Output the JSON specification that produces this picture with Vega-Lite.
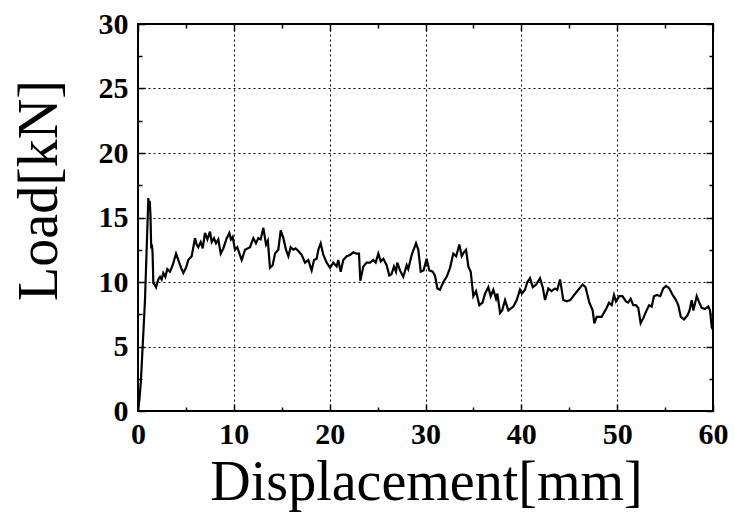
{
  "$schema": "https://vega.github.io/schema/vega-lite/v6.json",
  "autosize": {"type": "none"},
  "padding": {"left": 138, "top": 24, "right": 21, "bottom": 103},
  "width": 575,
  "height": 387,
  "background": "white",
  "config": {
    "view": {"stroke": "black", "strokeWidth": 2},
    "axis": {
      "domain": false,
      "tickColor": "black",
      "tickWidth": 1.5,
      "labelFont": "Liberation Serif",
      "labelFontWeight": "bold",
      "labelFontSize": 30,
      "labelColor": "black",
      "labelFlush": false,
      "labelOverlap": false,
      "titleFont": "Liberation Serif",
      "titleFontWeight": "normal",
      "titleFontSize": 56,
      "titleColor": "black"
    }
  },
  "data": {
    "values": [
      {"d": 0, "load": 0}, {"d": 0.15, "load": 0.9}, {"d": 0.3, "load": 2.3}, {"d": 0.5, "load": 5.2},
      {"d": 0.73, "load": 8.6}, {"d": 0.95, "load": 13.6}, {"d": 1.08, "load": 16.5}, {"d": 1.15, "load": 15.6},
      {"d": 1.22, "load": 16.3}, {"d": 1.3, "load": 15.2}, {"d": 1.38, "load": 12.6}, {"d": 1.45, "load": 12.9},
      {"d": 1.52, "load": 12.3}, {"d": 1.6, "load": 9.9}, {"d": 1.75, "load": 9.8}, {"d": 1.88, "load": 9.6},
      {"d": 2.12, "load": 10.2}, {"d": 2.3, "load": 10.4}, {"d": 2.47, "load": 10.2}, {"d": 2.64, "load": 10.7},
      {"d": 2.85, "load": 10.4}, {"d": 3.06, "load": 11.0}, {"d": 3.34, "load": 10.8}, {"d": 3.62, "load": 11.3},
      {"d": 3.97, "load": 12.2}, {"d": 4.21, "load": 11.7}, {"d": 4.5, "load": 11.1}, {"d": 4.73, "load": 10.7},
      {"d": 5.01, "load": 11.1}, {"d": 5.25, "load": 11.7}, {"d": 5.6, "load": 12.0}, {"d": 5.95, "load": 13.4},
      {"d": 6.12, "load": 12.9}, {"d": 6.29, "load": 12.7}, {"d": 6.54, "load": 13.1}, {"d": 6.75, "load": 12.6},
      {"d": 6.99, "load": 13.8}, {"d": 7.24, "load": 13.3}, {"d": 7.51, "load": 13.9}, {"d": 7.69, "load": 13.1},
      {"d": 7.93, "load": 13.4}, {"d": 8.14, "load": 13.0}, {"d": 8.38, "load": 13.3}, {"d": 8.63, "load": 12.2},
      {"d": 8.9, "load": 12.6}, {"d": 9.26, "load": 13.4}, {"d": 9.53, "load": 13.8}, {"d": 9.7, "load": 13.3},
      {"d": 9.88, "load": 13.5}, {"d": 10.12, "load": 12.5}, {"d": 10.36, "load": 12.7}, {"d": 10.82, "load": 11.7},
      {"d": 11.17, "load": 12.5}, {"d": 11.69, "load": 12.7}, {"d": 12.03, "load": 13.4}, {"d": 12.31, "load": 13.0},
      {"d": 12.56, "load": 13.4}, {"d": 12.8, "load": 13.3}, {"d": 13.08, "load": 14.2}, {"d": 13.36, "load": 12.9},
      {"d": 13.55, "load": 13.2}, {"d": 13.77, "load": 11.1}, {"d": 14.05, "load": 11.3}, {"d": 14.3, "load": 12.2},
      {"d": 14.64, "load": 12.5}, {"d": 14.89, "load": 14.0}, {"d": 15.17, "load": 13.4}, {"d": 15.44, "load": 12.5},
      {"d": 15.69, "load": 12.0}, {"d": 15.93, "load": 12.7}, {"d": 16.21, "load": 12.5}, {"d": 16.45, "load": 12.6},
      {"d": 16.73, "load": 12.4}, {"d": 17.08, "load": 12.1}, {"d": 17.43, "load": 11.5}, {"d": 17.77, "load": 11.7},
      {"d": 18.12, "load": 10.9}, {"d": 18.37, "load": 11.7}, {"d": 18.64, "load": 11.8}, {"d": 18.82, "load": 12.5},
      {"d": 19.06, "load": 13.0}, {"d": 19.34, "load": 12.1}, {"d": 19.69, "load": 11.5}, {"d": 20.04, "load": 11.1},
      {"d": 20.38, "load": 11.5}, {"d": 20.73, "load": 11.2}, {"d": 20.9, "load": 11.7}, {"d": 21.15, "load": 10.8},
      {"d": 21.42, "load": 11.7}, {"d": 21.78, "load": 12.0}, {"d": 22.12, "load": 12.1}, {"d": 22.47, "load": 12.3},
      {"d": 22.8, "load": 12.2}, {"d": 23.06, "load": 12.2}, {"d": 23.2, "load": 10.1}, {"d": 23.51, "load": 11.2},
      {"d": 23.86, "load": 11.5}, {"d": 24.2, "load": 11.5}, {"d": 24.56, "load": 11.7}, {"d": 24.8, "load": 11.5},
      {"d": 25.08, "load": 12.2}, {"d": 25.33, "load": 11.6}, {"d": 25.6, "load": 11.8}, {"d": 25.95, "load": 11.3},
      {"d": 26.22, "load": 10.5}, {"d": 26.45, "load": 10.6}, {"d": 26.71, "load": 11.2}, {"d": 26.92, "load": 10.8},
      {"d": 27.06, "load": 11.5}, {"d": 27.34, "load": 10.9}, {"d": 27.68, "load": 10.4}, {"d": 28.04, "load": 11.3},
      {"d": 28.2, "load": 11.0}, {"d": 28.56, "load": 12.1}, {"d": 29.01, "load": 13.0}, {"d": 29.25, "load": 12.5},
      {"d": 29.5, "load": 10.8}, {"d": 29.8, "load": 10.9}, {"d": 30.12, "load": 11.8}, {"d": 30.4, "load": 10.9},
      {"d": 30.75, "load": 10.8}, {"d": 30.99, "load": 10.5}, {"d": 31.24, "load": 9.5}, {"d": 31.51, "load": 9.4},
      {"d": 31.86, "load": 10.0}, {"d": 32.21, "load": 10.4}, {"d": 32.56, "load": 11.1}, {"d": 32.9, "load": 12.2},
      {"d": 33.2, "load": 12.0}, {"d": 33.53, "load": 12.9}, {"d": 33.78, "load": 12.0}, {"d": 34.0, "load": 12.3},
      {"d": 34.23, "load": 12.5}, {"d": 34.47, "load": 11.2}, {"d": 34.72, "load": 10.8}, {"d": 34.99, "load": 8.9},
      {"d": 35.27, "load": 9.3}, {"d": 35.62, "load": 8.2}, {"d": 35.95, "load": 8.4}, {"d": 36.21, "load": 9.1},
      {"d": 36.56, "load": 9.6}, {"d": 36.8, "load": 8.9}, {"d": 37.08, "load": 9.4}, {"d": 37.36, "load": 8.7},
      {"d": 37.5, "load": 9.1}, {"d": 37.78, "load": 7.6}, {"d": 38.0, "load": 7.8}, {"d": 38.3, "load": 8.6},
      {"d": 38.64, "load": 7.8}, {"d": 39.17, "load": 8.1}, {"d": 39.52, "load": 8.6}, {"d": 39.86, "load": 9.4},
      {"d": 40.05, "load": 9.1}, {"d": 40.38, "load": 9.4}, {"d": 40.63, "load": 10.0}, {"d": 40.91, "load": 10.3},
      {"d": 41.19, "load": 9.6}, {"d": 41.55, "load": 9.8}, {"d": 41.95, "load": 10.3}, {"d": 42.23, "load": 9.6},
      {"d": 42.47, "load": 8.6}, {"d": 42.82, "load": 9.5}, {"d": 43.15, "load": 9.3}, {"d": 43.51, "load": 9.5},
      {"d": 43.75, "load": 9.4}, {"d": 44.04, "load": 10.2}, {"d": 44.38, "load": 8.6}, {"d": 44.73, "load": 8.5},
      {"d": 45.1, "load": 8.6}, {"d": 45.42, "load": 8.9}, {"d": 45.95, "load": 9.4}, {"d": 46.4, "load": 9.8},
      {"d": 46.7, "load": 9.6}, {"d": 47.1, "load": 8.4}, {"d": 47.44, "load": 7.8}, {"d": 47.62, "load": 6.8},
      {"d": 47.86, "load": 7.3}, {"d": 48.38, "load": 7.3}, {"d": 48.91, "load": 8.0}, {"d": 49.15, "load": 8.4},
      {"d": 49.43, "load": 8.2}, {"d": 49.67, "load": 9.0}, {"d": 49.88, "load": 8.5}, {"d": 50.22, "load": 8.9},
      {"d": 50.55, "load": 8.9}, {"d": 50.92, "load": 8.5}, {"d": 51.15, "load": 8.4}, {"d": 51.41, "load": 8.7},
      {"d": 51.68, "load": 8.2}, {"d": 51.95, "load": 8.2}, {"d": 52.2, "load": 8.0}, {"d": 52.45, "load": 6.8},
      {"d": 52.72, "load": 7.2}, {"d": 53.07, "load": 7.8}, {"d": 53.34, "load": 8.2}, {"d": 53.6, "load": 8.1},
      {"d": 53.84, "load": 8.9}, {"d": 54.15, "load": 9.0}, {"d": 54.5, "load": 8.9}, {"d": 54.81, "load": 9.5},
      {"d": 55.1, "load": 9.7}, {"d": 55.44, "load": 9.5}, {"d": 55.79, "load": 9.0}, {"d": 56.14, "load": 8.6},
      {"d": 56.38, "load": 8.2}, {"d": 56.64, "load": 7.3}, {"d": 56.98, "load": 7.1}, {"d": 57.33, "load": 7.4},
      {"d": 57.55, "load": 7.8}, {"d": 57.78, "load": 8.6}, {"d": 57.95, "load": 7.8}, {"d": 58.3, "load": 8.9},
      {"d": 58.57, "load": 8.4}, {"d": 58.82, "load": 8.0}, {"d": 59.15, "load": 7.9}, {"d": 59.51, "load": 8.1},
      {"d": 59.69, "load": 7.8}, {"d": 59.87, "load": 6.5}, {"d": 60, "load": 6.3}
    ]
  },
  "layer": [
    {
      "mark": {"type": "line", "color": "black", "strokeWidth": 2.2, "clip": true},
      "encoding": {
        "x": {
          "field": "d", "type": "quantitative",
          "scale": {"domain": [0, 60], "nice": false},
          "axis": {
            "orient": "bottom", "values": [0, 10, 20, 30, 40, 50, 60],
            "title": "Displacement[mm]", "tickSize": -7, "labelPadding": 15,
            "grid": true, "gridColor": "black", "gridDash": [2, 3], "gridWidth": 1, "gridOpacity": 1,
            "titleX": 288, "titleY": 88, "titleBaseline": "alphabetic", "titleAlign": "center"
          }
        },
        "y": {
          "field": "load", "type": "quantitative",
          "scale": {"domain": [0, 30], "nice": false},
          "axis": {
            "orient": "left", "values": [0, 5, 10, 15, 20, 25, 30],
            "title": "Load[kN]", "tickSize": -7, "labelPadding": 17,
            "grid": true, "gridColor": "black", "gridDash": [2, 3], "gridWidth": 1, "gridOpacity": 1,
            "titleX": -82, "titleY": 166, "titleBaseline": "alphabetic", "titleAlign": "center", "titleAngle": -90
          }
        }
      }
    },
    {
      "mark": {"type": "line", "strokeOpacity": 0},
      "encoding": {
        "x": {
          "field": "d", "type": "quantitative",
          "scale": {"domain": [0, 60], "nice": false},
          "axis": {"orient": "top", "values": [0, 10, 20, 30, 40, 50, 60], "labels": false, "grid": false, "tickSize": -7, "title": null}
        },
        "y": {
          "field": "load", "type": "quantitative",
          "scale": {"domain": [0, 30], "nice": false},
          "axis": {"orient": "right", "values": [0, 5, 10, 15, 20, 25, 30], "labels": false, "grid": false, "tickSize": -7, "title": null}
        }
      }
    },
    {
      "mark": {"type": "line", "strokeOpacity": 0},
      "encoding": {
        "x": {
          "field": "d", "type": "quantitative",
          "scale": {"domain": [0, 60], "nice": false},
          "axis": {"orient": "bottom", "values": [5, 15, 25, 35, 45, 55], "labels": false, "grid": false, "tickSize": -4, "title": null}
        },
        "y": {
          "field": "load", "type": "quantitative",
          "scale": {"domain": [0, 30], "nice": false},
          "axis": {"orient": "left", "values": [2.5, 7.5, 12.5, 17.5, 22.5, 27.5], "labels": false, "grid": false, "tickSize": -4, "title": null}
        }
      }
    },
    {
      "mark": {"type": "line", "strokeOpacity": 0},
      "encoding": {
        "x": {
          "field": "d", "type": "quantitative",
          "scale": {"domain": [0, 60], "nice": false},
          "axis": {"orient": "top", "values": [5, 15, 25, 35, 45, 55], "labels": false, "grid": false, "tickSize": -4, "title": null}
        },
        "y": {
          "field": "load", "type": "quantitative",
          "scale": {"domain": [0, 30], "nice": false},
          "axis": {"orient": "right", "values": [2.5, 7.5, 12.5, 17.5, 22.5, 27.5], "labels": false, "grid": false, "tickSize": -4, "title": null}
        }
      }
    }
  ],
  "resolve": {"axis": {"x": "independent", "y": "independent"}}
}
